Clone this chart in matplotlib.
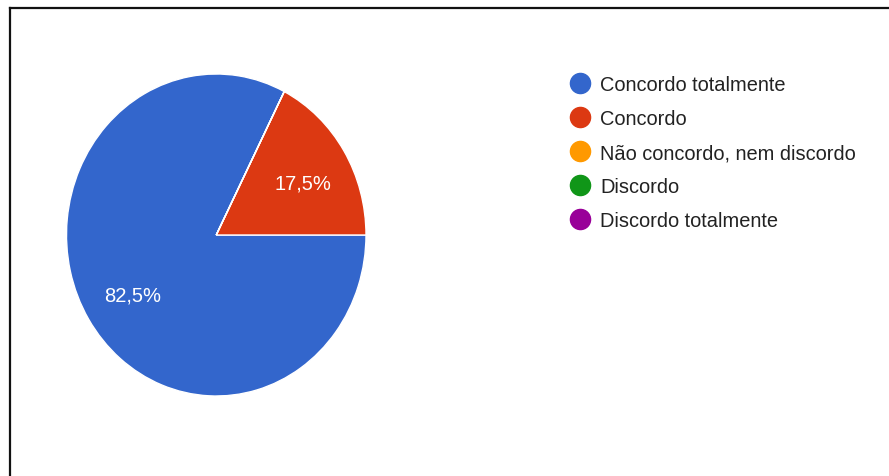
import matplotlib.pyplot as plt
from matplotlib.lines import Line2D

# dados
categorias = ['Concordo totalmente', 'Concordo', 'Não concordo, nem discordo',
              'Discordo', 'Discordo totalmente']
valores = [82.5, 17.5, 0, 0, 0]
cores = ['#3366CC', '#DC3912', '#FF9900', '#109618', '#990099']

plt.rcParams['font.family'] = ['Liberation Sans', 'DejaVu Sans']

W, H = 889, 477
fig = plt.figure(figsize=(W / 100, H / 100), dpi=100)

# eixo do gráfico de pizza (um pouco esticado na vertical, como na imagem)
ax = fig.add_axes([66.5 / W, (H - 397) / H, 299.5 / W, 322 / H])


def rotulo(p):
    if p <= 0:
        return ''
    return ('%.1f%%' % p).replace('.', ',')


wedges, textos, autotextos = ax.pie(
    valores, colors=cores, startangle=63, counterclock=True,
    autopct=rotulo, pctdistance=0.67,
    wedgeprops=dict(edgecolor='white', linewidth=1))
for t in autotextos:
    t.set_color('white')
    t.set_fontsize(14.5)
    x, y = t.get_position()
    t.set_position((x + 0.01, y - 0.025))
ax.set_aspect('auto')
ax.set_xlim(-1, 1)
ax.set_ylim(-1, 1)

# legenda
handles = [Line2D([0], [0], marker='o', linestyle='none', markersize=14.5,
                  markerfacecolor=c, markeredgecolor=c) for c in cores]
fig.legend(handles, categorias, loc='upper left',
           bbox_to_anchor=(570 / W, 1 - 76 / H), frameon=False,
           fontsize=14.4, labelspacing=0.75, handlelength=1.0,
           handletextpad=0.5, borderpad=0, borderaxespad=0,
           labelcolor='#222222')

# moldura (topo e esquerda)
fig.add_artist(Line2D([10 / W, 1], [1 - 9 / H, 1 - 9 / H], color='#111111', lw=1.6))
fig.add_artist(Line2D([10 / W, 10 / W], [0, 1 - 9 / H], color='#111111', lw=1.6))

fig.savefig('out.png', dpi=100)
